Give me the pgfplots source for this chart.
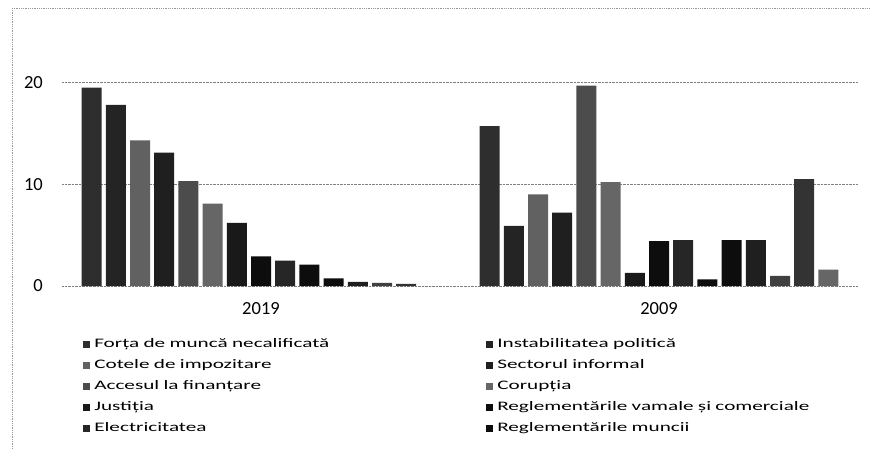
\documentclass[border=0pt]{standalone}
\usepackage{fontspec}
\setmainfont{Carlito}
\newfontfamily\legendfont{Carlito}[FakeStretch=1.63]
\usepackage{pgfplots}
\pgfplotsset{compat=1.18}

% grey tones of the scanned bars
\colorlet{g1}{black!82}
\colorlet{g2}{black!86}
\colorlet{g3}{black!62}
\colorlet{g4}{black!88}
\colorlet{g5}{black!70}
\colorlet{g6}{black!60}
\colorlet{g7}{black!90}
\colorlet{g8}{black!95}
\colorlet{g9}{black!85}
\colorlet{g10}{black!95}

\begin{document}
\begin{tikzpicture}
\path[use as bounding box] (0bp,0bp) rectangle (871bp,-449bp);
% faint outer frame of the scanned chart
\draw[black!40, densely dotted, line width=0.8bp] (12bp,-8bp) -- (871bp,-8bp);
\draw[black!40, densely dotted, line width=0.8bp] (12bp,-8bp) -- (12bp,-449bp);

\begin{axis}[
    at={(62bp,-286bp)}, anchor=south west,
    scale only axis,
    width=796bp, height=254.4bp,
    ybar=4.2bp,
    bar width=20bp,
    xmin=-0.5, xmax=1.5,
    ymin=0, ymax=25,
    xtick={0,1},
    xticklabels={2019, 2009},
    ytick={0,10,20},
    ymajorgrids=true,
    grid style={densely dotted, black!50, line width=0.8bp},
    axis line style={draw=none},
    tick style={draw=none},
    major tick length=0pt,
    /pgf/number format/assume math mode=true,
    tick label style={font=\fontsize{18.5bp}{20bp}\selectfont, inner sep=0pt},
    yticklabel style={anchor=east, xshift=-19bp},
    xticklabel style={anchor=north, yshift=-16bp},
    legend columns=2,
    legend cell align=left,
    legend image code/.code={
      \fill[#1] (0bp,-3.5bp) rectangle (7bp,3.5bp);
      \path (11bp,0bp);
    },
    legend style={
      at={(axis description cs:0.0265,-0.1867)}, anchor=north west,
      draw=none, fill=none, inner sep=0pt,
      column sep=0bp, row sep=0bp,
      font=\legendfont\fontsize{13bp}{15bp}\selectfont,
      nodes={inner xsep=0pt, inner ysep=0pt, minimum height=21bp,
             text width=392bp, align=left},
    },
  ]
  \addplot[draw=none, fill=g1] coordinates {(0,19.5) (1,15.7)};
  \addlegendentry{Forța de muncă necalificată}
  \addplot[draw=none, fill=g2] coordinates {(0,17.8) (1,5.9)};
  \addlegendentry{Instabilitatea politică}
  \addplot[draw=none, fill=g3] coordinates {(0,14.3) (1,9.0)};
  \addlegendentry{Cotele de impozitare}
  \addplot[draw=none, fill=g4] coordinates {(0,13.1) (1,7.2)};
  \addlegendentry{Sectorul informal}
  \addplot[draw=none, fill=g5] coordinates {(0,10.3) (1,19.7)};
  \addlegendentry{Accesul la finanțare}
  \addplot[draw=none, fill=g6] coordinates {(0,8.1) (1,10.2)};
  \addlegendentry{Corupția}
  \addplot[draw=none, fill=g7] coordinates {(0,6.2) (1,1.3)};
  \addlegendentry{Justiția}
  \addplot[draw=none, fill=g8] coordinates {(0,2.9) (1,4.4)};
  \addlegendentry{Reglementările vamale și comerciale}
  \addplot[draw=none, fill=g9] coordinates {(0,2.5) (1,4.5)};
  \addlegendentry{Electricitatea}
  \addplot[draw=none, fill=g10] coordinates {(0,2.1) (1,0.65)};
  \addlegendentry{Reglementările muncii}
  % further series, their legend entries are cut off in the scan
  \addplot[draw=none, fill=black!95] coordinates {(0,0.75) (1,4.5)};
  \addplot[draw=none, fill=black!88] coordinates {(0,0.4) (1,4.5)};
  \addplot[draw=none, fill=black!75] coordinates {(0,0.3) (1,1.0)};
  \addplot[draw=none, fill=black!80] coordinates {(0,0.2) (1,10.5)};
  \addplot[draw=none, fill=black!60] coordinates {(0,0) (1,1.6)};
\end{axis}
\end{tikzpicture}
\end{document}
